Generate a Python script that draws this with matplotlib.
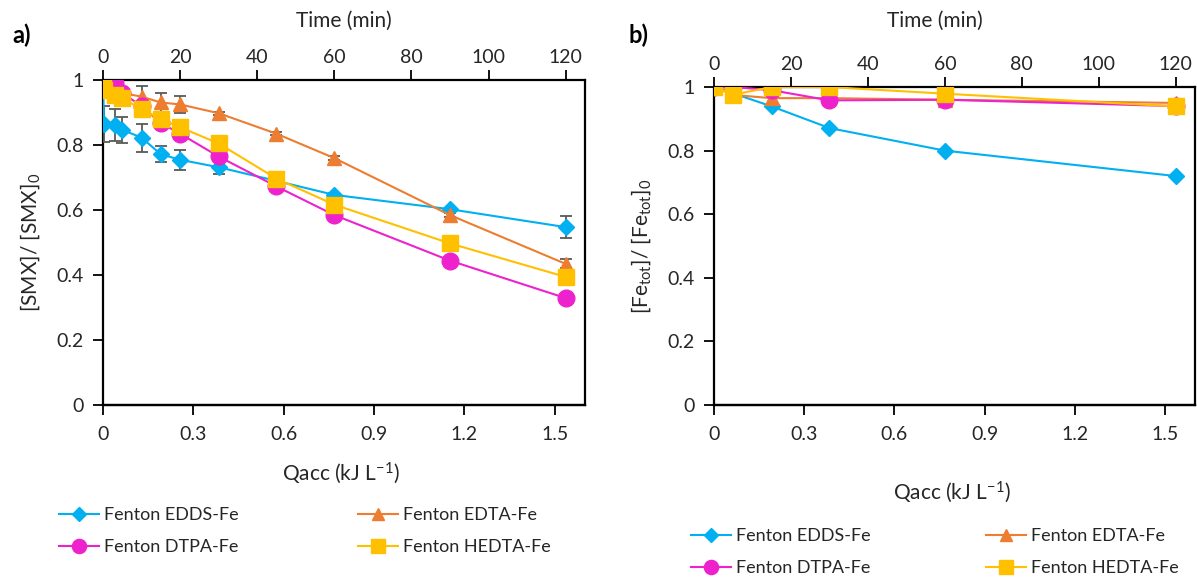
import matplotlib
matplotlib.use("Agg")
import matplotlib.pyplot as plt
from matplotlib.lines import Line2D
from matplotlib.ticker import FuncFormatter

plt.rcParams['font.family'] = ['Lato', 'DejaVu Sans']
plt.rcParams['mathtext.default'] = 'regular'

# accumulated UV energy per minute of irradiation (kJ/L per min)
Q_PER_MIN = 0.0128

# ---- panel a: SMX degradation ----
t_a_edds = [0, 0.25, 3, 5, 10, 15, 20, 30, 45, 60, 90, 120]
smx_edds = [1.0, 0.865, 0.862, 0.847, 0.823, 0.772, 0.755, 0.732, 0.69, 0.647, 0.603, 0.548]
smx_edds_err = [0, 0.055, 0.05, 0.04, 0.043, 0.025, 0.031, 0.02, 0.005, 0.005, 0.005, 0.034]

t_a = [0, 3, 5, 10, 15, 20, 30, 45, 60, 90, 120]
smx_edta = [1.0, 0.97, 0.96, 0.949, 0.931, 0.925, 0.898, 0.835, 0.76, 0.585, 0.435]
smx_edta_err = [0, 0.005, 0.005, 0.033, 0.03, 0.025, 0.005, 0.005, 0.005, 0.005, 0.014]
smx_dtpa = [1.0, 0.99, 0.96, 0.92, 0.868, 0.835, 0.765, 0.673, 0.585, 0.445, 0.33]

t_a_hedta = [0, 0.25, 3, 5, 10, 15, 20, 30, 45, 60, 90, 120]
smx_hedta = [1.0, 0.97, 0.955, 0.945, 0.91, 0.88, 0.855, 0.805, 0.697, 0.617, 0.498, 0.395]

# ---- panel b: total dissolved iron ----
t_b = [0, 5, 15, 30, 60, 120]
fe_edds = [1.0, 0.98, 0.939, 0.871, 0.80, 0.72]
fe_edta = [1.0, 0.975, 0.965, 0.965, 0.96, 0.95]
fe_dtpa = [1.0, 1.0, 0.99, 0.958, 0.96, 0.94]
fe_hedta = [1.0, 0.976, 1.0, 1.0, 0.979, 0.939]

labels = ['Fenton EDDS-Fe', 'Fenton EDTA-Fe', 'Fenton DTPA-Fe', 'Fenton HEDTA-Fe']
colors = ['#00B0F0', '#ED7D31', '#EE22CC', '#FFC000']
markers = ['D', '^', 'o', 's']
msizes = [8, 10, 12, 12]

TXT = '#262626'
ERR = '#595959'


def fmt(v, pos):
    return '{:g}'.format(round(v, 2))


def style_axis(ax, ylabel):
    ax.set_xlim(0, 125)
    ax.set_ylim(0, 1)
    ax.xaxis.tick_top()
    ax.set_xticks(range(0, 121, 20))
    ax.set_yticks([0, 0.2, 0.4, 0.6, 0.8, 1.0])
    ax.yaxis.set_major_formatter(FuncFormatter(fmt))
    ax.tick_params(axis='both', direction='out', length=7, width=1.3,
                   labelsize=14, labelcolor=TXT, pad=7)
    ax.tick_params(axis='x', pad=3)
    for s in ax.spines.values():
        s.set_linewidth(1.6)
        s.set_color('black')
    ax.set_ylabel(ylabel, fontsize=15, color=TXT, labelpad=10)

    sec = ax.secondary_xaxis('bottom', functions=(lambda t: t * Q_PER_MIN,
                                                  lambda q: q / Q_PER_MIN))
    sec.set_xticks([0, 0.3, 0.6, 0.9, 1.2, 1.5])
    sec.xaxis.set_major_formatter(FuncFormatter(fmt))
    sec.tick_params(direction='out', length=7, width=1.3, labelsize=14,
                    labelcolor=TXT, pad=8)
    sec.spines['bottom'].set_linewidth(1.6)
    return sec


fig = plt.figure(figsize=(11.97, 5.79), dpi=100)

# panel a
ax1 = fig.add_axes([0.086, 0.2997, 0.4027, 0.5621])
series_a = [(t_a_edds, smx_edds, smx_edds_err), (t_a, smx_edta, smx_edta_err),
            (t_a, smx_dtpa, None), (t_a_hedta, smx_hedta, None)]
for (t, y, err), c, m, ms in zip(series_a, colors, markers, msizes):
    ax1.errorbar(t, y, yerr=err, color=c, marker=m, markersize=ms, linewidth=1.5,
                 ecolor=ERR, elinewidth=1.3, capsize=4, capthick=1.3, zorder=3)
style_axis(ax1, '[SMX]/ [SMX]$_0$')

# panel b
ax2 = fig.add_axes([0.5965, 0.3005, 0.4018, 0.5492])
for y, c, m, ms in zip([fe_edds, fe_edta, fe_dtpa, fe_hedta], colors, markers, msizes):
    ax2.plot(t_b, y, color=c, marker=m, markersize=ms, linewidth=1.5, zorder=3)
style_axis(ax2, '[Fe$_{tot}$]/ [Fe$_{tot}$]$_0$')

# axis titles placed as in the original figure
fig.text(344 / 1197, 1 - 21 / 579, 'Time (min)', fontsize=15, color=TXT, ha='center', va='center')
fig.text(935 / 1197, 1 - 21 / 579, 'Time (min)', fontsize=15, color=TXT, ha='center', va='center')
fig.text(341 / 1197, 1 - 473 / 579, 'Qacc (kJ L$^{-1}$)', fontsize=15, color=TXT, ha='center', va='center')
fig.text(952 / 1197, 1 - 492 / 579, 'Qacc (kJ L$^{-1}$)', fontsize=15, color=TXT, ha='center', va='center')
fig.text(12 / 1197, 1 - 35 / 579, 'a)', fontsize=17, fontweight='bold', ha='left', va='center')
fig.text(628 / 1197, 1 - 35 / 579, 'b)', fontsize=17, fontweight='bold', ha='left', va='center')

# legend laid out row by row: EDDS, EDTA / DTPA, HEDTA
handles = [Line2D([], [], color=c, marker=m, markersize=ms * 0.85, linewidth=1.5)
           for c, m, ms in zip(colors, markers, msizes)]
order = [0, 2, 1, 3]
h_ord = [handles[i] for i in order]
l_ord = [labels[i] for i in order]
leg_kw = dict(ncol=2, frameon=False, fontsize=13, handlelength=2.2,
              handletextpad=0.3, labelspacing=0.9, labelcolor=TXT, borderpad=0)
fig.legend(h_ord, l_ord, loc='upper left', bbox_to_anchor=(50 / 1197, 1 - 498 / 579),
           columnspacing=6.6, **leg_kw)
fig.legend(h_ord, l_ord, loc='upper left', bbox_to_anchor=(682 / 1197, 1 - 519 / 579),
           columnspacing=6.4, **leg_kw)

fig.savefig('out.png', dpi=100)
